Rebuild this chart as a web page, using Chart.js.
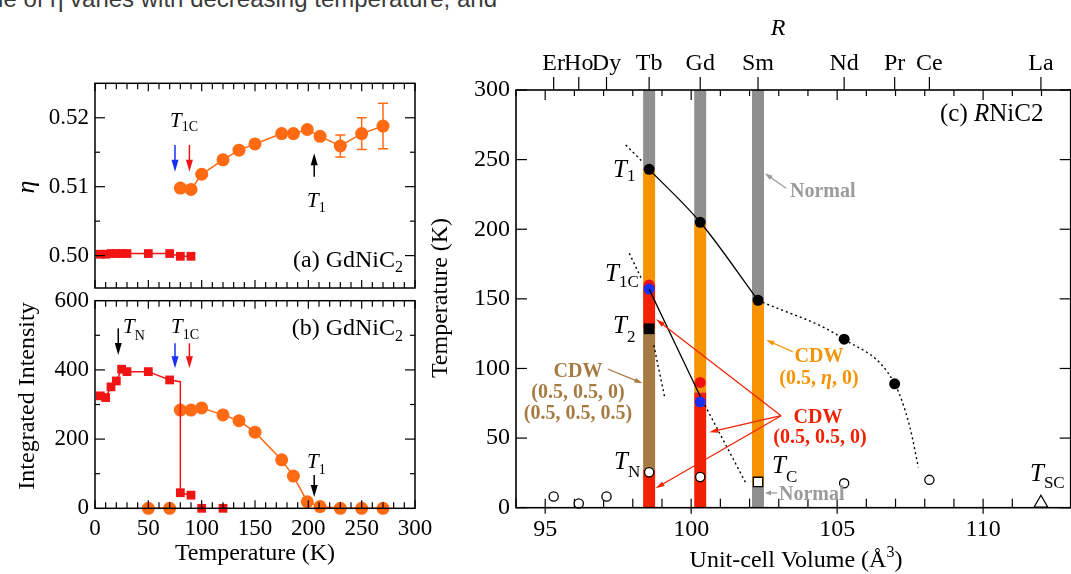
<!DOCTYPE html>
<html><head><meta charset="utf-8"><title>GdNiC2 / RNiC2 phase diagram</title>
<script src="https://cdn.jsdelivr.net/npm/chart.js@4.4.1/dist/chart.umd.min.js"></script>
<style>
html,body{margin:0;padding:0;background:#fff;overflow:hidden;width:1071px;height:574px}
#wrap{position:relative;width:1071px;height:574px;overflow:hidden;background:#fff}
canvas{position:absolute;left:0;top:0}
#cap{position:absolute;right:574px;top:-13px;font:24px 'Liberation Sans',Arial,sans-serif;line-height:24px;color:#3a3a3a;white-space:nowrap}
</style></head>
<body><div id="wrap">
<div id="cap">value of η varies with decreasing temperature, and</div>
<canvas id="cA" width="1080" height="574"></canvas>
<canvas id="cB" width="1080" height="574"></canvas>
<canvas id="cC" width="1080" height="574"></canvas>
</div>
<script>
// ---------------- DATA ----------------
// (a) wave-vector component eta vs temperature, GdNiC2
const T_ORANGE_A = [80, 90, 100, 120, 135, 150, 175, 186, 199, 211, 230, 250, 270];
const ETA_ORANGE = [0.5098, 0.5096, 0.5118, 0.5139, 0.5153, 0.5162, 0.5177, 0.5177, 0.5183, 0.5173, 0.5159, 0.5177, 0.5188];
const ETA_ERR    = [0, 0, 0, 0, 0, 0, 0, 0, 0, 0, 0.0016, 0.0023, 0.0033];
const T_RED_A    = [5, 10, 15, 20, 25, 30, 50, 70, 80, 90];
const ETA_RED    = [0.5002, 0.5002, 0.5003, 0.5003, 0.5003, 0.5003, 0.5003, 0.5003, 0.4999, 0.4999];
const ETA_TICKS  = [0.50, 0.51, 0.52];

// (b) integrated intensity vs temperature, GdNiC2
const T_RED_B    = [5, 10, 15, 20, 25, 30, 50, 70, 80, 90, 100, 120];
const INT_RED    = [325, 320, 351, 368, 402, 395, 395, 371, 45, 38, 0, 0];
const T_ORANGE_B = [50, 70, 80, 90, 100, 120, 135, 150, 175, 186, 199, 211, 230, 250, 270];
const INT_ORANGE = [0, 0, 284, 284, 290, 270, 253, 220, 140, 93, 19, 5, 0, 0, 0];
const T_DROP = 80, INT_DROP_TOP = 366;
const INT_TICKS  = [0, 200, 400, 600];
const TEMP_TICKS = [0, 50, 100, 150, 200, 250, 300];

// (c) RNiC2 phase diagram
const ELEMENTS = ['Er', 'Ho', 'Dy', 'Tb', 'Gd', 'Sm', 'Nd', 'Pr', 'Ce', 'La'];
const VOLUME   = [95.29, 96.15, 97.10, 98.56, 100.31, 102.29, 105.24, 106.97, 108.16, 111.98];
const T1_R  = ['Tb', 'Gd', 'Sm', 'Nd', 'Pr'];
const T1_K  = [243, 205, 149, 121, 89];
const TN_R  = ['Er', 'Ho', 'Dy', 'Tb', 'Gd', 'Nd', 'Ce'];
const TN_K  = [8, 3, 8, 25.5, 22, 17.5, 20];
const T1C_R = ['Tb', 'Gd'];
const T1C_RED  = [160, 90];
const T1C_BLUE = [157, 76];
const T2_R = ['Tb'];  const T2_K = [128.5];
const TC_R = ['Sm'];  const TC_K = [18.5];
const TSC_R = ['La']; const TSC_K = [3.2];
const PHASE_NORMAL  = [['Tb', 243, 300], ['Gd', 205, 300], ['Sm', 149, 300], ['Sm', 0, 16]];
const PHASE_CDW_ETA = [['Tb', 160, 243], ['Gd', 83, 205], ['Sm', 16, 149]];
const PHASE_CDW_C   = [['Tb', 128.5, 160], ['Tb', 0, 27], ['Gd', 0, 83]];
const PHASE_CDW_CC  = [['Tb', 27, 128.5]];
const GUIDE_T1_DOT   = [[102.29, 149], [105.24, 121], [106.97, 89], [107.49, 58], [107.78, 29]];
const GUIDE_T1_UP    = [[97.76, 260.5], [98.33, 248.5]];
const GUIDE_T1C      = [[98.56, 157], [100.31, 80]];
const GUIDE_T1C_DOT  = [[100.31, 80], [101.89, 17]];
const GUIDE_T1C_UP   = [[97.88, 182.7], [98.32, 163.5]];
const GUIDE_T2_DOT   = [[98.72, 116.7], [99.10, 78.6]];
const VOL_TICKS  = [95, 100, 105, 110];
const TEMP_TICKS_C = [0, 50, 100, 150, 200, 250, 300];

// ---------------- STYLE ----------------
const SERIF = "'Liberation Serif','Times New Roman',serif";
const F = (size, style) => (style ? style + ' ' : '') + size + 'px ' + SERIF;
const C_ORANGE_AB = '#FF6A12', C_RED_AB = '#F01414', C_BLUE = '#1830F5';
const C_GRAY = '#8F8F8F', C_ORANGE = '#F69300', C_RED = '#F02000', C_BROWN = '#A67B42', C_NTXT = '#9B9B9B';
Chart.defaults.font.family = SERIF;
Chart.defaults.color = '#000';

// ---------------- HELPERS ----------------
const xy = (xs, ys) => xs.map((x, i) => ({x, y: ys[i]}));
const vol = r => VOLUME[ELEMENTS.indexOf(r)];
const ptsR = (rs, ks) => rs.map((r, i) => ({x: vol(r), y: ks[i]}));
const pairs = arr => arr.map(p => ({x: p[0], y: p[1]}));
function phaseData(list) {
  const out = [];
  list.forEach(([r, lo, hi]) => { const v = vol(r); out.push({x: v, y: lo}, {x: v, y: hi}, {x: v, y: null}); });
  return out;
}
function seg(ctx, x1, y1, x2, y2) { ctx.beginPath(); ctx.moveTo(x1, y1); ctx.lineTo(x2, y2); ctx.stroke(); }
function arrow(ctx, x1, y1, x2, y2, color, lw, hl, hw) {
  const a = Math.atan2(y2 - y1, x2 - x1), c = Math.cos(a), s = Math.sin(a);
  ctx.save(); ctx.strokeStyle = color; ctx.fillStyle = color; ctx.lineWidth = lw;
  const bx = x2 - hl * c, by = y2 - hl * s;
  seg(ctx, x1, y1, bx + c, by + s);
  ctx.beginPath(); ctx.moveTo(x2, y2);
  ctx.lineTo(bx + hw / 2 * s, by - hw / 2 * c);
  ctx.lineTo(bx - hw / 2 * s, by + hw / 2 * c);
  ctx.closePath(); ctx.fill(); ctx.restore();
}
function runs(ctx, x, y, parts, align) {
  let total = 0;
  parts.forEach(p => { ctx.font = p[1]; p.w = ctx.measureText(p[0]).width; total += p.w; });
  let cx = align === 'center' ? x - total / 2 : align === 'right' ? x - total : x;
  ctx.textAlign = 'left'; ctx.textBaseline = 'alphabetic';
  parts.forEach(p => { ctx.font = p[1]; ctx.fillStyle = p[3] || '#000'; ctx.fillText(p[0], cx, y + (p[2] || 0)); cx += p.w; });
}
function frame(ctx, a, lw) {
  ctx.save(); ctx.strokeStyle = '#000'; ctx.lineWidth = lw;
  ctx.strokeRect(a.left, a.top, a.right - a.left, a.bottom - a.top); ctx.restore();
}
function tempTicks(ctx, chart) {
  const a = chart.chartArea, x = chart.scales.x;
  ctx.save(); ctx.strokeStyle = '#000'; ctx.lineWidth = 1.2;
  for (let t = 0; t <= 300; t += 10) {
    const p = x.getPixelForValue(t), L = t % 50 === 0 ? 8 : 6;
    seg(ctx, p, a.top, p, a.top + L); seg(ctx, p, a.bottom, p, a.bottom - L);
  }
  ctx.restore();
}
function valTicks(ctx, chart, majors, minors) {
  const a = chart.chartArea, y = chart.scales.y;
  ctx.save(); ctx.strokeStyle = '#000'; ctx.lineWidth = 1.2;
  majors.forEach(v => { const p = y.getPixelForValue(v); seg(ctx, a.left, p, a.left + 10, p); seg(ctx, a.right, p, a.right - 10, p); });
  minors.forEach(v => { const p = y.getPixelForValue(v); seg(ctx, a.left, p, a.left + 5, p); seg(ctx, a.right, p, a.right - 5, p); });
  ctx.restore();
}
function baseScales(cfg) {
  const hide = {display: false, drawTicks: false};
  return {
    x: Object.assign({type: 'linear', min: 0, max: 300, grid: hide, border: {display: false}}, cfg.x),
    y: Object.assign({type: 'linear', grid: hide, border: {display: false}}, cfg.y)
  };
}
const common = {responsive: false, animation: false, events: [], plugins: {legend: {display: false}, tooltip: {enabled: false}}};

// ---------------- PANEL (a) ----------------
new Chart(document.getElementById('cA'), {
  type: 'scatter',
  data: {datasets: [
    {data: xy(T_ORANGE_A, ETA_ORANGE), showLine: true, borderColor: C_ORANGE_AB, borderWidth: 1.5,
     pointRadius: 6.5, pointBackgroundColor: C_ORANGE_AB, pointBorderWidth: 0, clip: false},
    {data: xy(T_RED_A, ETA_RED), showLine: true, borderColor: C_RED_AB, borderWidth: 1.5, pointStyle: 'rect',
     pointRadius: 6.2, pointBackgroundColor: C_RED_AB, pointBorderWidth: 0, clip: false}
  ]},
  options: Object.assign({}, common, {
    layout: {padding: {left: 15, top: 83.3, right: 665, bottom: 286}},
    scales: baseScales({
      x: {ticks: {display: false}, afterFit: s => { s.height = 0; }},
      y: {min: 0.4953, max: 0.525,
          afterBuildTicks: s => { s.ticks = ETA_TICKS.map(v => ({value: v})); },
          ticks: {font: {size: 23}, padding: 6, callback: v => v.toFixed(2)},
          afterFit: s => { s.width = 80; }}
    })
  }),
  plugins: [{
    id: 'decoA',
    beforeDatasetsDraw(chart) {
      const {ctx, scales: {x, y}} = chart;
      ctx.save(); ctx.strokeStyle = C_ORANGE_AB; ctx.lineWidth = 1.5;
      T_ORANGE_A.forEach((t, i) => {
        if (!ETA_ERR[i]) return;
        const px = x.getPixelForValue(t), y1 = y.getPixelForValue(ETA_ORANGE[i] - ETA_ERR[i]), y2 = y.getPixelForValue(ETA_ORANGE[i] + ETA_ERR[i]);
        seg(ctx, px, y1, px, y2); seg(ctx, px - 5, y1, px + 5, y1); seg(ctx, px - 5, y2, px + 5, y2);
      });
      ctx.restore();
    },
    afterDraw(chart) {
      const {ctx, chartArea: a, scales: {x, y}} = chart;
      frame(ctx, a, 1.5); tempTicks(ctx, chart);
      valTicks(ctx, chart, [0.50, 0.51, 0.52], [0.505, 0.515]);
      const arr = (t, v1, v2, c) => arrow(ctx, x.getPixelForValue(t), y.getPixelForValue(v1), x.getPixelForValue(t), y.getPixelForValue(v2), c, 1.5, 12, 7);
      arr(75, 0.51605, 0.51217, C_BLUE);
      arr(88.5, 0.51605, 0.51217, C_RED_AB);
      arr(205.5, 0.51145, 0.51484, '#000');
      runs(ctx, 170, 126.5, [['T', F(21, 'italic')], ['1C', F(14), 4]]);
      runs(ctx, 307, 207, [['T', F(21, 'italic')], ['1', F(14), 5]]);
      runs(ctx, 403, 266.5, [['(a) GdNiC', F(24)], ['2', F(16), 5]], 'right');
      ctx.save(); ctx.translate(27, 187); ctx.rotate(-Math.PI / 2);
      ctx.font = F(26, 'italic'); ctx.textAlign = 'center'; ctx.textBaseline = 'middle'; ctx.fillStyle = '#000';
      ctx.fillText('η', 0, 0); ctx.restore();
    }
  }]
});

// ---------------- PANEL (b) ----------------
const redLineB = xy(T_RED_B.slice(0, 8), INT_RED.slice(0, 8))
  .concat([{x: T_DROP, y: INT_DROP_TOP}], xy(T_RED_B.slice(8, 10), INT_RED.slice(8, 10)));
const orangeLineB = xy(T_ORANGE_B.slice(0, 2), INT_ORANGE.slice(0, 2))
  .concat([{x: 75, y: null}], xy(T_ORANGE_B.slice(2), INT_ORANGE.slice(2)));
new Chart(document.getElementById('cB'), {
  type: 'scatter',
  data: {datasets: [
    {data: xy(T_RED_B, INT_RED), pointStyle: 'rect', pointRadius: 6.2, pointBackgroundColor: C_RED_AB, pointBorderWidth: 0, clip: false, order: 0},
    {data: redLineB, showLine: true, borderColor: C_RED_AB, borderWidth: 1.5, pointRadius: 0, order: 1},
    {data: xy(T_ORANGE_B, INT_ORANGE), pointRadius: 6.5, pointBackgroundColor: C_ORANGE_AB, pointBorderWidth: 0, clip: false, order: 2},
    {data: orangeLineB, showLine: true, borderColor: C_ORANGE_AB, borderWidth: 1.5, pointRadius: 0, spanGaps: false, order: 3}
  ]},
  options: Object.assign({}, common, {
    layout: {padding: {left: 15, top: 300.7, right: 665, bottom: 25.7}},
    scales: baseScales({
      x: {afterBuildTicks: s => { s.ticks = TEMP_TICKS.map(v => ({value: v})); },
          ticks: {font: {size: 23}, padding: 7, autoSkip: false, maxRotation: 0, minRotation: 0},
          afterFit: s => { s.height = 40; }},
      y: {min: 0, max: 600,
          afterBuildTicks: s => { s.ticks = INT_TICKS.map(v => ({value: v})); },
          ticks: {font: {size: 23}, padding: 6},
          afterFit: s => { s.width = 80; }}
    })
  }),
  plugins: [{
    id: 'decoB',
    afterDraw(chart) {
      const {ctx, chartArea: a, scales: {x, y}} = chart;
      frame(ctx, a, 1.5); tempTicks(ctx, chart);
      valTicks(ctx, chart, [200, 400], [100, 300, 500]);
      const arr = (t, v1, v2, c) => arrow(ctx, x.getPixelForValue(t), y.getPixelForValue(v1), x.getPixelForValue(t), y.getPixelForValue(v2), c, 1.5, 12, 7);
      arr(21.8, 520, 443, '#000');
      arr(75, 477, 405, C_BLUE);
      arr(88.5, 477, 405, C_RED_AB);
      arr(205.5, 96, 33, '#000');
      runs(ctx, 123, 333, [['T', F(21, 'italic')], ['N', F(14), 7]]);
      runs(ctx, 171, 333, [['T', F(21, 'italic')], ['1C', F(14), 6]]);
      runs(ctx, 307, 468, [['T', F(21, 'italic')], ['1', F(14), 6]]);
      runs(ctx, 403, 335, [['(b) GdNiC', F(24)], ['2', F(16), 6]], 'right');
      ctx.save(); ctx.fillStyle = '#000'; ctx.font = F(24); ctx.textAlign = 'center'; ctx.textBaseline = 'alphabetic';
      ctx.fillText('Temperature (K)', 255, 560);
      ctx.translate(34, 396); ctx.rotate(-Math.PI / 2); ctx.fillText('Integrated Intensity', 0, 0);
      ctx.restore();
    }
  }]
});

// ---------------- PANEL (c) ----------------
const bar = (list, color) => ({data: phaseData(list), showLine: true, borderColor: color, borderWidth: 12,
  borderCapStyle: 'butt', pointRadius: 0, spanGaps: false, order: 10});
const guide = (arr, dotted, order) => ({data: pairs(arr), showLine: true, borderColor: '#000', borderWidth: dotted ? 1.4 : 1.3,
  borderDash: dotted ? [2, 3] : [], pointRadius: 0, cubicInterpolationMode: 'monotone', order: order === undefined ? 3 : order, clip: false});
new Chart(document.getElementById('cC'), {
  type: 'scatter',
  data: {datasets: [
    bar(PHASE_NORMAL, C_GRAY), bar(PHASE_CDW_ETA, C_ORANGE), bar(PHASE_CDW_C, C_RED), bar(PHASE_CDW_CC, C_BROWN),
    guide(ptsR(T1_R.slice(0, 3), T1_K.slice(0, 3)).map(p => [p.x, p.y]), false),
    guide(GUIDE_T1_DOT, true), guide(GUIDE_T1_UP, true),
    guide(GUIDE_T1C, false, -1), guide(GUIDE_T1C_DOT, true), guide(GUIDE_T1C_UP, true), guide(GUIDE_T2_DOT, true),
    {data: ptsR(T1C_R, T1C_RED), pointRadius: 5.5, pointBackgroundColor: '#F01010', pointBorderWidth: 0, order: 1, clip: false},
    {data: ptsR(T1C_R, T1C_BLUE), pointRadius: 5.5, pointBackgroundColor: C_BLUE, pointBorderWidth: 0, order: 0, clip: false},
    {data: ptsR(T1_R, T1_K), pointRadius: 5.5, pointBackgroundColor: '#000', pointBorderWidth: 0, order: 2, clip: false},
    {data: ptsR(TN_R, TN_K), pointRadius: 4.6, pointBackgroundColor: '#fff', pointBorderColor: '#000', pointBorderWidth: 1.3, order: 2, clip: false},
    {data: ptsR(T2_R, T2_K), pointStyle: 'rect', pointRadius: 7.6, pointBackgroundColor: '#000', pointBorderWidth: 0, order: 2, clip: false},
    {data: ptsR(TC_R, TC_K), pointStyle: 'rect', pointRadius: 6.6, pointBackgroundColor: '#fff', pointBorderColor: '#000', pointBorderWidth: 1.3, order: 2, clip: false},
    {data: ptsR(TSC_R, TSC_K), pointStyle: 'triangle', pointRadius: 8, pointBackgroundColor: '#fff', pointBorderColor: '#000', pointBorderWidth: 1.3, order: 2, clip: false}
  ]},
  options: Object.assign({}, common, {
    layout: {padding: {left: 436, top: 50, right: 4.7, bottom: 26.3}},
    scales: {
      x: {type: 'linear', position: 'bottom', min: 94, max: 113,
          afterBuildTicks: s => { s.ticks = VOL_TICKS.map(v => ({value: v})); },
          ticks: {font: {size: 24}, padding: 8, autoSkip: false, maxRotation: 0, minRotation: 0},
          grid: {display: false, drawTicks: false}, border: {display: false}, afterFit: s => { s.height = 40; }},
      xTop: {type: 'linear', axis: 'x', position: 'top', min: 94, max: 113,
          afterBuildTicks: s => { s.ticks = VOLUME.map(v => ({value: v})); },
          ticks: {font: {size: 24}, padding: 12, autoSkip: false, maxRotation: 0, minRotation: 0, callback: (v, i) => ELEMENTS[i]},
          grid: {display: false, drawTicks: false}, border: {display: false}, afterFit: s => { s.height = 40; }},
      y: {type: 'linear', min: 0, max: 300,
          afterBuildTicks: s => { s.ticks = TEMP_TICKS_C.map(v => ({value: v})); },
          ticks: {font: {size: 24}, padding: 6},
          grid: {display: false, drawTicks: false}, border: {display: false}, afterFit: s => { s.width = 80; }}
    }
  }),
  plugins: [{
    id: 'decoC',
    beforeDatasetsDraw(chart) {
      const {ctx, chartArea: a, scales: {x, y}} = chart;
      ctx.save(); ctx.strokeStyle = '#000'; ctx.lineWidth = 1.2;
      for (let v = 94; v <= 113; v++) {
        const p = x.getPixelForValue(v), maj = v % 5 === 0;
        seg(ctx, p, a.bottom, p, a.bottom - 9); if (maj) seg(ctx, p, a.bottom, p, a.bottom + 6);
        seg(ctx, p, a.top, p, a.top + (maj ? 10 : 6));
      }
      VOLUME.forEach(v => { const p = x.getPixelForValue(v); seg(ctx, p, a.top, p, a.top - 13); });
      TEMP_TICKS_C.forEach(t => { const p = y.getPixelForValue(t); seg(ctx, a.left, p, a.left + 11, p); seg(ctx, a.right, p, a.right - 11, p); });
      ctx.restore();
    },
    afterDraw(chart) {
      const {ctx, chartArea: a, scales: {x, y}} = chart;
      frame(ctx, a, 1.6);
      const P = (v, t) => [x.getPixelForValue(v), y.getPixelForValue(t)];
      const arr = (f, t, c, lw, hl, hw) => { const p1 = P(f[0], f[1]), p2 = P(t[0], t[1]); arrow(ctx, p1[0], p1[1], p2[0], p2[1], c, lw, hl, hw); };
      arr([103.25, 229.4], [102.52, 240.2], C_NTXT, 1.3, 8, 5);
      arr([103.48, 112], [102.57, 120.4], C_ORANGE, 1.3, 8, 5);
      arr([103.08, 66.1], [98.80, 135.3], C_RED, 1.2, 9, 5);
      arr([103.08, 66.1], [100.62, 54.2], C_RED, 1.2, 9, 5);
      arr([103.08, 66.1], [98.78, 13.9], C_RED, 1.2, 9, 5);
      arr([97.14, 99.6], [98.33, 89.3], C_BROWN, 1.3, 8, 5);
      arr([102.94, 10.6], [102.53, 10.6], C_NTXT, 1.3, 6, 5);
      // labels
      const TI = F(25, 'italic'), SB = F(17);
      runs(ctx, 613, 177, [['T', TI], ['1', SB, 4]]);
      runs(ctx, 605, 281, [['T', TI], ['1C', SB, 6]]);
      runs(ctx, 613, 333, [['T', TI], ['2', SB, 9]]);
      runs(ctx, 614, 469, [['T', TI], ['N', SB, 8]]);
      runs(ctx, 772, 473, [['T', TI], ['C', SB, 9]]);
      runs(ctx, 1030, 481, [['T', TI], ['SC', SB, 7]]);
      runs(ctx, 940, 121, [['(c) ', F(25)], ['R', F(25, 'italic')], ['NiC2', F(25)]]);
      runs(ctx, 778, 35, [['R', F(24, 'italic')]], 'center');
      const B = F(20, 'bold'), BI = F(20, 'bold italic');
      runs(ctx, 578, 376.5, [['CDW', B, 0, C_BROWN]], 'center');
      runs(ctx, 578, 397.5, [['(0.5, 0.5, 0)', B, 0, C_BROWN]], 'center');
      runs(ctx, 578, 419, [['(0.5, 0.5, 0.5)', B, 0, C_BROWN]], 'center');
      runs(ctx, 819, 361.5, [['CDW', B, 0, C_ORANGE]], 'center');
      runs(ctx, 819, 383.5, [['(0.5, ', B, 0, C_ORANGE], ['η', BI, 0, C_ORANGE], [', 0)', B, 0, C_ORANGE]], 'center');
      runs(ctx, 818, 423, [['CDW', B, 0, C_RED]], 'center');
      runs(ctx, 820, 443, [['(0.5, 0.5, 0)', B, 0, C_RED]], 'center');
      runs(ctx, 790, 196.5, [['Normal', B, 0, C_NTXT]]);
      runs(ctx, 779, 499.5, [['Normal', B, 0, C_NTXT]]);
      // axis titles
      runs(ctx, 796, 567, [['Unit-cell Volume (Å', F(24)], ['3', F(16), -10], [')', F(24)]], 'center');
      ctx.save(); ctx.translate(447, 298); ctx.rotate(-Math.PI / 2);
      ctx.font = F(24); ctx.fillStyle = '#000'; ctx.textAlign = 'center'; ctx.textBaseline = 'alphabetic';
      ctx.fillText('Temperature (K)', 0, 0); ctx.restore();
    }
  }]
});
</script>
</body></html>
